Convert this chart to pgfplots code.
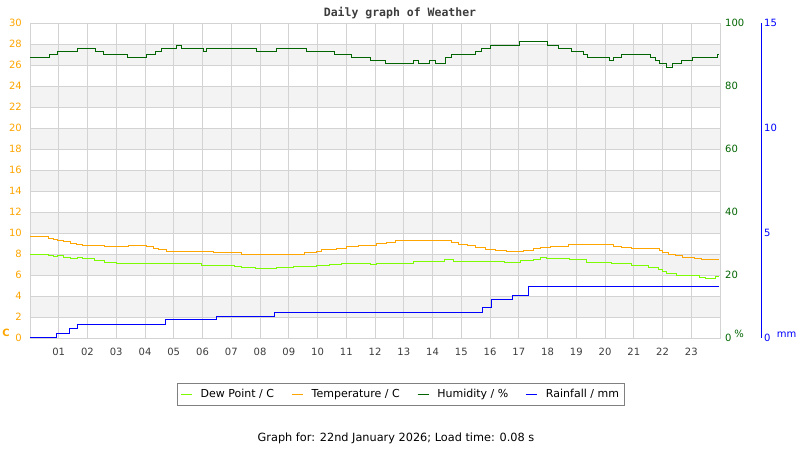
\documentclass[border=0pt]{standalone}
\usepackage{pgfplots}
\pgfplotsset{compat=1.18}
\usepackage{fontspec}
\setmainfont{DejaVu Sans}
\newfontfamily\titlefont{DejaVu Sans Mono}

\definecolor{tempc}{RGB}{255,165,0}
\definecolor{dewc}{RGB}{124,252,0}
\definecolor{humc}{RGB}{0,100,0}
\definecolor{rainc}{RGB}{0,0,255}
\definecolor{gridc}{RGB}{211,211,211}
\definecolor{bandc}{RGB}{243,243,243}
\definecolor{txtc}{RGB}{60,60,60}

\pgfplotsset{
  every tick label/.append style={font=\fontsize{10}{12}\selectfont},
  /pgf/number format/assume math mode=true,
}

\begin{document}
\begin{tikzpicture}

% temperature / dew point axis, carries the grid and legend
\begin{axis}[set layers,
  at={(30pt,112pt)}, anchor=south west, scale only axis,
  width=690pt, height=315pt,
  xmin=0, xmax=24, ymin=0, ymax=30,
  xtick={1,...,23},
  xticklabels={01,02,03,04,05,06,07,08,09,10,11,12,13,14,15,16,17,18,19,20,21,22,23},
  ytick={0,2,...,30},
  grid=major, major grid style={draw=gridc, line width=0.8pt},
  axis line style={draw=gridc, line width=0.8pt},
  tick style={draw=none},
  xticklabel style={txtc, anchor=north, inner sep=0pt, yshift=-10pt},
  yticklabel style={tempc, anchor=east, inner sep=0pt, xshift=-8pt},
  legend columns=4,
  legend style={at={(0.537,-0.179)}, anchor=center, draw=gray, line width=0.8pt,
    font=\fontsize{11}{13}\selectfont, inner xsep=3pt, inner ysep=4pt,
    /tikz/every odd column/.append style={column sep=6pt},
    /tikz/every even column/.append style={column sep=15pt}},
  legend image code/.code={\draw[#1, line width=1.6pt] (0pt,0pt) -- (11pt,0pt);},
]
% shaded bands
\addplot[draw=none, fill=bandc, on layer=axis background, forget plot] coordinates {(0,2) (24,2) (24,4) (0,4)} --cycle;
\addplot[draw=none, fill=bandc, on layer=axis background, forget plot] coordinates {(0,6) (24,6) (24,8) (0,8)} --cycle;
\addplot[draw=none, fill=bandc, on layer=axis background, forget plot] coordinates {(0,10) (24,10) (24,12) (0,12)} --cycle;
\addplot[draw=none, fill=bandc, on layer=axis background, forget plot] coordinates {(0,14) (24,14) (24,16) (0,16)} --cycle;
\addplot[draw=none, fill=bandc, on layer=axis background, forget plot] coordinates {(0,18) (24,18) (24,20) (0,20)} --cycle;
\addplot[draw=none, fill=bandc, on layer=axis background, forget plot] coordinates {(0,22) (24,22) (24,24) (0,24)} --cycle;
\addplot[draw=none, fill=bandc, on layer=axis background, forget plot] coordinates {(0,26) (24,26) (24,28) (0,28)} --cycle;

% dew point
\addplot[dewc, line width=1pt, const plot] coordinates {
(0,7.97) (0.63,7.90) (0.80,7.78) (0.97,7.87) (1.18,7.71) (1.41,7.56) (1.66,7.62)
(1.84,7.56) (2.25,7.37) (2.60,7.17) (3.0,7.11) (3.41,7.05) (4.05,7.08) (4.6,7.05)
(5.98,6.86) (6.15,6.95) (7.13,6.79) (7.35,6.73) (7.85,6.60) (8.58,6.73) (9.16,6.83)
(9.97,6.86) (10.43,6.98) (10.84,7.11) (11.42,7.05) (11.83,6.98) (12.06,7.14)
(13.33,7.24) (13.97,7.33) (14.43,7.49) (14.72,7.33) (15.19,7.24) (15.88,7.27)
(16.5,7.21) (17.05,7.40) (17.51,7.52) (17.74,7.68) (17.97,7.56) (18.78,7.46)
(19.36,7.17) (20.23,7.05) (20.93,6.95) (21.51,6.76) (21.85,6.57) (22.0,6.35)
(22.14,6.10) (22.49,5.94) (23.27,5.78) (23.5,5.68) (23.85,5.85) (23.95,5.85)
};
\addlegendentry{Dew Point / C}

% temperature
\addplot[tempc, line width=1pt, const plot] coordinates {
(0,9.65) (0.63,9.52) (0.80,9.40) (0.97,9.27) (1.18,9.17) (1.41,9.02) (1.61,8.92)
(1.84,8.79) (2.60,8.70) (3.41,8.79) (4.05,8.67) (4.28,8.54) (4.48,8.41) (4.74,8.25)
(6.37,8.10) (7.35,7.94) (9.0,7.97) (9.56,8.10) (9.97,8.25) (10.15,8.41) (10.67,8.54)
(11.0,8.67) (11.42,8.79) (12.06,8.98) (12.4,9.11) (12.7,9.24) (14.67,9.08)
(14.9,8.95) (15.2,8.79) (15.5,8.63) (15.83,8.44) (16.2,8.32) (16.58,8.22)
(17.16,8.38) (17.51,8.51) (17.74,8.63) (18.09,8.73) (18.73,8.86) (20.29,8.76)
(20.58,8.63) (20.93,8.48) (21.9,8.29) (22.0,8.10) (22.2,7.94) (22.45,7.81)
(22.7,7.68) (23.1,7.59) (23.35,7.43) (23.95,7.43)
};
\addlegendentry{Temperature / C}

\addlegendimage{humc}
\addlegendentry{Humidity / \%}
\addlegendimage{rainc}
\addlegendentry{Rainfall / mm}
\end{axis}

% humidity axis
\begin{axis}[
  at={(30pt,112pt)}, anchor=south west, scale only axis,
  width=690pt, height=315pt,
  xmin=0, xmax=24, ymin=0, ymax=100,
  axis x line=none, axis y line*=right,
  axis line style={draw=none}, tick style={draw=none},
  ytick={0,20,...,100},
  yticklabel style={humc, anchor=west, inner sep=0pt, xshift=5pt},
]
\addplot[humc, line width=1pt, const plot] coordinates {
(0,89) (0.69,90) (0.96,91) (1.66,92) (2.28,91) (2.55,90) (3.4,89) (4.06,90)
(4.35,91) (4.58,92) (5.1,93) (5.28,92) (6.03,91) (6.15,92) (7.88,91) (8.58,92)
(9.62,91) (10.6,90) (11.19,89) (11.83,88) (12.35,87) (13.33,88) (13.5,87)
(13.9,88) (14.09,87) (14.44,89) (14.67,90) (15.48,91) (15.71,92) (16.0,93)
(17.02,94) (17.99,93) (18.38,92) (18.82,91) (19.25,90) (19.4,89) (20.17,88)
(20.29,89) (20.58,90) (21.57,89) (21.74,88) (21.89,87) (22.15,86) (22.35,87)
(22.67,88) (23.05,89) (23.9,90) (23.95,90)
};
\end{axis}

% rainfall axis, offset to the right
\begin{axis}[
  at={(30pt,112pt)}, anchor=south west, scale only axis,
  width=731pt, height=315pt,
  xmin=0, xmax=25.4261, ymin=0, ymax=15,
  axis x line=none, axis y line*=right,
  axis line style={draw=rainc, line width=1pt}, tick style={draw=none},
  ytick={0,5,10,15},
  yticklabel style={rainc, anchor=west, inner sep=0pt, xshift=3pt},
]
\addplot[rainc, line width=1pt, const plot] coordinates {
(0,0.03) (0.93,0.22) (1.36,0.46) (1.65,0.65) (4.72,0.86) (6.49,1.03) (8.52,1.22)
(15.73,1.46) (16.05,1.84) (16.79,2.03) (17.35,2.46) (23.95,2.46)
};
\end{axis}

\node[tempc, font=\bfseries\fontsize{10}{12}\selectfont] at (6pt,117.5pt) {C};
\node[humc, font=\fontsize{10}{12}\selectfont] at (739pt,116.5pt) {\%};
\node[rainc, font=\fontsize{10}{12}\selectfont] at (786.5pt,115pt) {mm};
\node[txtc, font=\titlefont\bfseries\fontsize{11.5}{13}\selectfont] at (400pt,437pt) {Daily graph of Weather};
\node[black, font=\fontsize{11.3}{13}\selectfont] at (396pt,12pt) {Graph for: 22nd January 2026; Load time: 0.08 s};

\pgfresetboundingbox
\path[use as bounding box] (0pt,0pt) rectangle (800pt,450pt);
\end{tikzpicture}
\end{document}
